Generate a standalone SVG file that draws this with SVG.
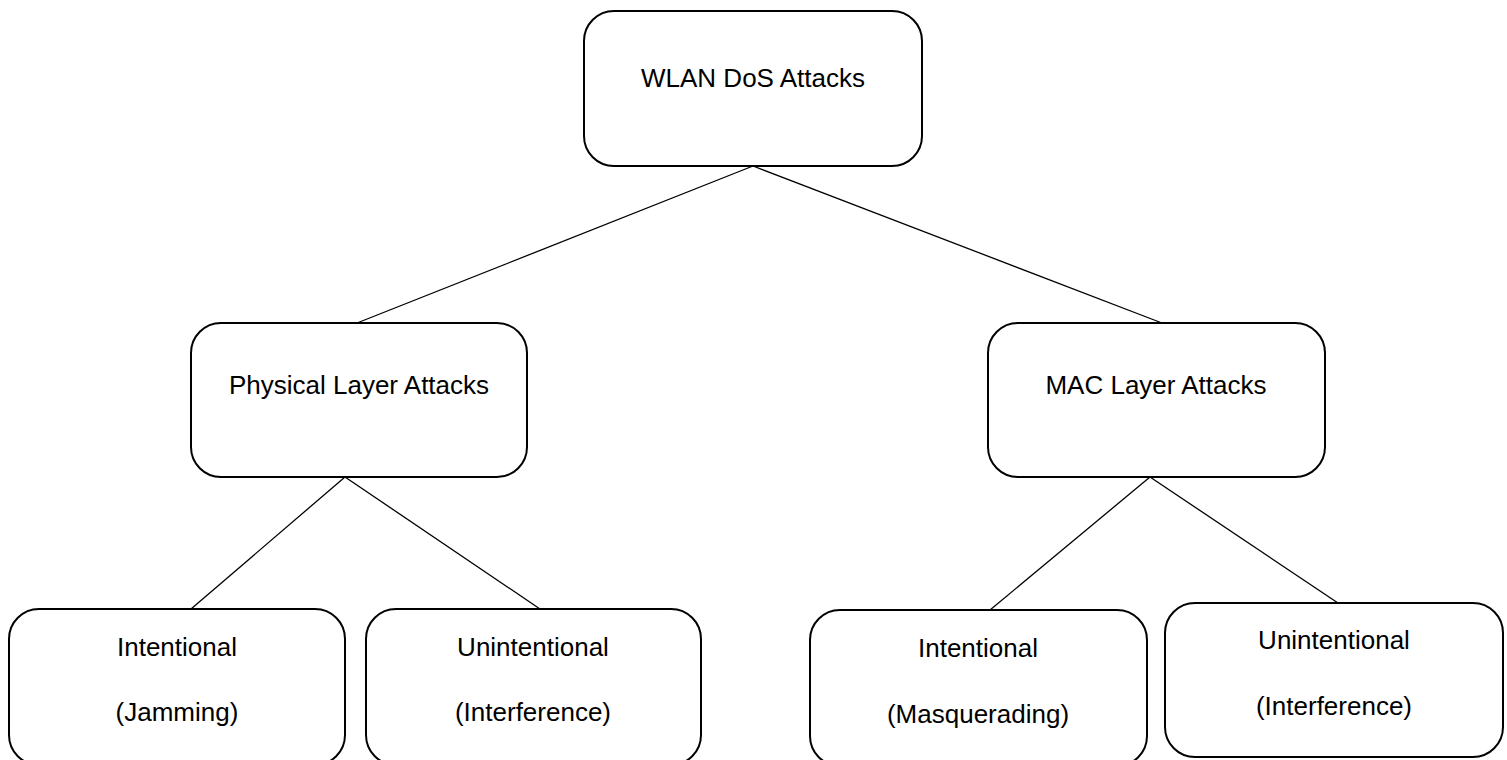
<svg xmlns="http://www.w3.org/2000/svg" width="1507" height="760" viewBox="0 0 1507 760">
<style>
.box{fill:#fff;stroke:#000;stroke-width:2}
.lbl{font-family:"Liberation Sans",Arial,sans-serif;font-size:26px;fill:#000;text-anchor:middle}
.con{stroke:#000;stroke-width:1.3;fill:none}
</style>
<rect width="1507" height="760" fill="#fff"/>
<g id="connectors">
<line class="con" x1="753" y1="166" x2="357" y2="323"/>
<line class="con" x1="753" y1="166" x2="1162" y2="323"/>
<line class="con" x1="345" y1="477" x2="191" y2="609"/>
<line class="con" x1="345" y1="477" x2="540" y2="609"/>
<line class="con" x1="1150" y1="477" x2="990" y2="610"/>
<line class="con" x1="1150" y1="477" x2="1338" y2="603"/>
</g>
<g id="root">
<rect class="box" x="584" y="11" width="338" height="155" rx="30"/>
<text class="lbl" x="753" y="87">WLAN DoS Attacks</text>
</g>
<g id="physical">
<rect class="box" x="191" y="323" width="336" height="154" rx="30"/>
<text class="lbl" x="359" y="394">Physical Layer Attacks</text>
</g>
<g id="mac">
<rect class="box" x="988" y="323" width="337" height="154" rx="30"/>
<text class="lbl" x="1156" y="394">MAC Layer Attacks</text>
</g>
<g id="phy-intentional">
<rect class="box" x="9" y="609" width="336" height="156" rx="30"/>
<text class="lbl" x="177" y="656">Intentional</text>
<text class="lbl" x="177" y="721">(Jamming)</text>
</g>
<g id="phy-unintentional">
<rect class="box" x="366" y="609" width="335" height="156" rx="30"/>
<text class="lbl" x="533" y="656">Unintentional</text>
<text class="lbl" x="533" y="721">(Interference)</text>
</g>
<g id="mac-intentional">
<rect class="box" x="810" y="610" width="337" height="156" rx="30"/>
<text class="lbl" x="978" y="657">Intentional</text>
<text class="lbl" x="978" y="723">(Masquerading)</text>
</g>
<g id="mac-unintentional">
<rect class="box" x="1165" y="603" width="338" height="154" rx="30"/>
<text class="lbl" x="1334" y="649">Unintentional</text>
<text class="lbl" x="1334" y="715">(Interference)</text>
</g>
</svg>
